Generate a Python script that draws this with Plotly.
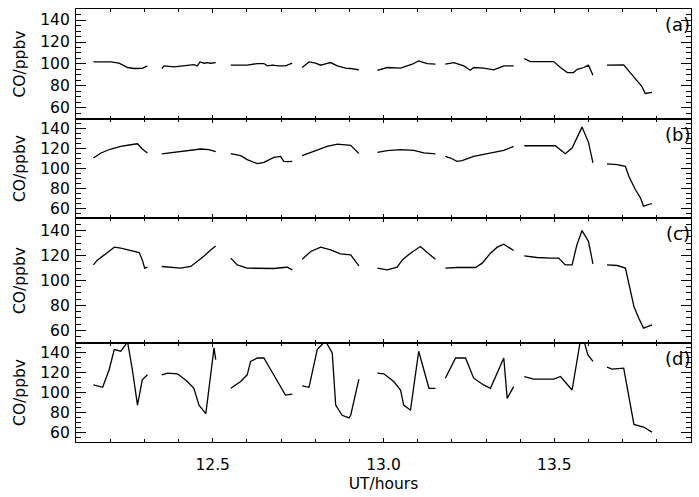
import plotly.graph_objects as go
from plotly.subplots import make_subplots

# Time (UT hours) and CO (ppbv) per panel; None breaks the line between flight legs
t_a = [12.151, 12.202, 12.226, 12.251, 12.270, 12.294, 12.309, None,
       12.351, 12.358, 12.387, 12.416, 12.445, 12.455, 12.463, 12.475, 12.484, 12.494, 12.509, None,
       12.553, 12.601, 12.631, 12.650, 12.660, 12.675, 12.694, 12.713, 12.733, None,
       12.762, 12.782, 12.801, 12.816, 12.830, 12.845, 12.865, 12.889, 12.904, 12.928, None,
       12.982, 13.011, 13.050, 13.084, 13.103, 13.128, 13.152, None,
       13.181, 13.206, 13.235, 13.254, 13.264, 13.293, 13.323, 13.352, 13.381, None,
       13.412, 13.430, 13.469, 13.498, 13.518, 13.538, 13.556, 13.567, 13.586, 13.600, 13.613, None,
       13.654, 13.703, 13.722, 13.742, 13.756, 13.766, 13.786]
co_a = [101.9, 102.0, 100.7, 96.8, 95.9, 96.0, 98.3, None,
        95.9, 98.3, 97.4, 98.3, 99.5, 98.3, 101.9, 100.7, 101.3, 100.7, 101.3, None,
        98.9, 98.9, 100.4, 100.4, 98.3, 98.9, 98.3, 98.3, 100.7, None,
        96.8, 101.9, 100.7, 98.9, 100.1, 101.3, 98.3, 96.2, 95.9, 94.6, None,
        94.3, 96.8, 96.2, 99.8, 102.8, 100.4, 99.8, None,
        99.8, 101.3, 98.3, 94.3, 96.8, 96.2, 94.6, 98.3, 98.3, None,
        104.9, 102.2, 102.2, 102.2, 96.8, 92.2, 92.2, 95.2, 96.8, 98.9, 89.8, None,
        98.9, 99.2, 92.2, 84.7, 79.6, 73.2, 74.1]

t_b = [12.151, 12.173, 12.202, 12.231, 12.260, 12.280, 12.294, 12.309, None,
       12.351, 12.387, 12.426, 12.465, 12.489, 12.509, None,
       12.553, 12.582, 12.601, 12.631, 12.650, 12.679, 12.699, 12.708, 12.718, 12.733, None,
       12.762, 12.796, 12.835, 12.865, 12.894, 12.904, 12.928, None,
       12.982, 13.011, 13.050, 13.089, 13.118, 13.152, None,
       13.181, 13.196, 13.215, 13.230, 13.264, 13.313, 13.352, 13.381, None,
       13.412, 13.449, 13.503, 13.532, 13.552, 13.581, 13.600, 13.613, None,
       13.654, 13.684, 13.708, 13.718, 13.737, 13.752, 13.761, 13.786]
co_b = [110.6, 115.7, 119.7, 122.4, 124.0, 125.0, 119.7, 115.7, None,
        114.7, 116.3, 118.3, 119.7, 119.0, 117.0, None,
        115.0, 113.0, 109.0, 104.9, 106.3, 111.3, 112.3, 107.3, 107.0, 107.3, None,
        113.0, 117.3, 122.4, 124.7, 124.0, 123.4, 115.0, None,
        116.3, 118.0, 119.0, 118.3, 115.7, 114.7, None,
        112.3, 110.6, 107.3, 108.0, 112.3, 115.7, 118.3, 122.4, None,
        123.0, 123.0, 123.0, 115.0, 120.7, 141.8, 126.4, 105.6, None,
        104.6, 103.9, 102.3, 92.2, 78.8, 70.4, 62.0, 64.7]

t_c = [12.151, 12.163, 12.183, 12.212, 12.231, 12.251, 12.270, 12.285, 12.294, 12.301, 12.309, None,
       12.351, 12.377, 12.406, 12.436, 12.455, 12.475, 12.494, 12.509, None,
       12.553, 12.572, 12.601, 12.640, 12.679, 12.708, 12.718, 12.733, None,
       12.762, 12.787, 12.816, 12.845, 12.874, 12.904, 12.928, None,
       12.982, 13.011, 13.040, 13.055, 13.079, 13.108, 13.128, 13.152, None,
       13.181, 13.215, 13.269, 13.289, 13.313, 13.333, 13.352, 13.381, None,
       13.412, 13.449, 13.489, 13.513, 13.532, 13.552, 13.566, 13.581, 13.600, 13.613, None,
       13.654, 13.684, 13.708, 13.718, 13.733, 13.747, 13.761, 13.786]
co_c = [112.5, 116.5, 120.5, 126.7, 125.9, 124.5, 123.2, 122.4, 116.5, 109.9, 110.7, None,
        111.2, 110.4, 109.9, 111.2, 115.2, 119.7, 124.5, 127.7, None,
        117.9, 112.5, 109.9, 109.6, 109.6, 110.4, 110.7, 108.5, None,
        117.0, 123.2, 126.7, 124.5, 121.3, 120.5, 111.7, None,
        109.9, 108.5, 110.7, 116.5, 121.9, 127.2, 122.4, 117.0, None,
        109.9, 110.4, 110.4, 113.9, 121.9, 126.7, 129.1, 124.0, None,
        119.7, 118.4, 117.9, 117.9, 112.5, 112.5, 128.5, 140.0, 131.2, 113.3, None,
        112.5, 112.0, 109.9, 97.9, 79.2, 69.9, 61.9, 64.5]

t_d = [12.151, 12.178, 12.197, 12.212, 12.231, 12.246, 12.251, 12.265, 12.280, 12.294, 12.309, None,
       12.351, 12.368, 12.397, 12.426, 12.445, 12.460, 12.480, 12.504, 12.509, None,
       12.553, 12.582, 12.601, 12.611, 12.631, 12.650, 12.670, 12.699, 12.713, 12.733, None,
       12.762, 12.782, 12.806, 12.830, 12.850, 12.860, 12.879, 12.899, 12.904, 12.928, None,
       12.982, 13.001, 13.030, 13.050, 13.059, 13.079, 13.103, 13.118, 13.133, 13.152, None,
       13.181, 13.211, 13.240, 13.264, 13.293, 13.313, 13.352, 13.362, 13.381, None,
       13.412, 13.440, 13.498, 13.518, 13.552, 13.566, 13.576, 13.586, 13.598, 13.613, None,
       13.654, 13.669, 13.703, 13.713, 13.733, 13.761, 13.786]
co_d = [107.6, 105.2, 122.9, 143.3, 141.6, 148.4, 151.0, 122.9, 87.2, 112.7, 117.8, None,
        117.8, 119.5, 118.8, 111.0, 104.2, 87.2, 78.7, 145.0, 133.1, None,
        104.2, 111.0, 117.8, 131.4, 134.8, 134.8, 122.9, 105.9, 97.4, 98.4, None,
        106.6, 105.2, 143.3, 152.0, 139.9, 87.2, 77.0, 74.3, 77.0, 113.4, None,
        119.5, 118.8, 111.0, 102.5, 87.2, 82.1, 141.6, 122.9, 104.2, 104.2, None,
        114.4, 134.8, 134.8, 114.4, 107.6, 104.2, 134.8, 94.0, 105.9, None,
        116.1, 113.4, 113.4, 116.1, 102.5, 133.1, 152.0, 153.0, 138.2, 131.4, None,
        125.6, 123.6, 124.6, 105.9, 67.8, 65.1, 60.0]

panel_labels = ["(a)", "(b)", "(c)", "(d)"]
y_title = "CO/ppbv"
x_title = "UT/hours"
y_ticks = [60, 80, 100, 120, 140]
x_ticks = [12.5, 13.0, 13.5]
x_ticktext = ["12.5", "13.0", "13.5"]

series = [(t_a, co_a), (t_b, co_b), (t_c, co_c), (t_d, co_d)]
heights = [111, 100, 126, 100]

fig = make_subplots(rows=4, cols=1, shared_xaxes=True, vertical_spacing=0,
                    row_heights=[h / sum(heights) for h in heights])

FONT = "DejaVu Sans"
FS = 15.5
for i, (t, co) in enumerate(series, start=1):
    fig.add_trace(go.Scatter(x=t, y=co, mode="lines", connectgaps=False,
                             line=dict(color="black", width=1.3), showlegend=False),
                  row=i, col=1)
    fig.update_yaxes(range=[50, 150], tickvals=y_ticks, ticks="inside", ticklen=10,
                     tickwidth=1, tickcolor="black", showline=True, linecolor="black",
                     linewidth=1.2, mirror="ticks", showgrid=False, zeroline=False,
                     ticklabelstandoff=2,
                     tickfont=dict(family=FONT, size=FS, color="black"),
                     minor=dict(dtick=5, tick0=50, ticks="inside", ticklen=5,
                                tickcolor="black", showgrid=False),
                     title=dict(text=y_title, font=dict(family=FONT, size=FS, color="black"),
                                standoff=10),
                     row=i, col=1)
    fig.update_xaxes(range=[12.1, 13.9], tickvals=x_ticks, ticktext=x_ticktext,
                     ticks="inside", ticklen=4, tickcolor="black", showline=True,
                     linecolor="black", linewidth=1.2, mirror="ticks", showgrid=False,
                     zeroline=False, showticklabels=(i == 4), ticklabelstandoff=8,
                     tickfont=dict(family=FONT, size=FS, color="black"),
                     minor=dict(dtick=0.1, tick0=12.1, ticks="inside", ticklen=3,
                                tickcolor="black", showgrid=False),
                     row=i, col=1)

fig.update_xaxes(title=dict(text=x_title, font=dict(family=FONT, size=FS, color="black"),
                            standoff=5), row=4, col=1)

# panel letters at top right of each panel
for i, lab in enumerate(panel_labels, start=1):
    yname = "yaxis" if i == 1 else f"yaxis{i}"
    top = fig.layout[yname].domain[1]
    fig.add_annotation(text=lab, xref="paper", yref="paper", x=1.0, y=top,
                       xanchor="right", yanchor="top", yshift=-3, xshift=1, showarrow=False,
                       font=dict(family=FONT, size=18, color="black"))

fig.update_layout(width=699, height=497, margin=dict(l=76, r=7, t=9, b=51),
                  paper_bgcolor="white", plot_bgcolor="white",
                  font=dict(family=FONT, color="black"))

fig.write_html("out.html")
